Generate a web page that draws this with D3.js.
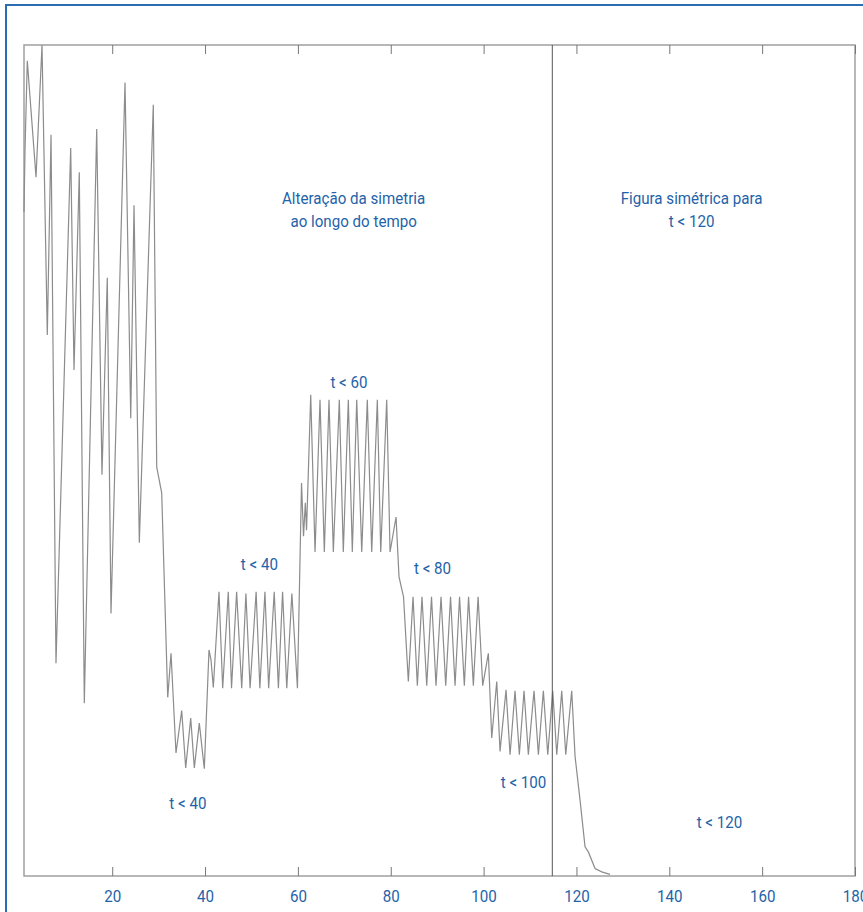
<!DOCTYPE html>
<html>
<head>
<meta charset="utf-8">
<script src="https://cdn.jsdelivr.net/npm/d3@7"></script>
<style>
  body { margin: 0; background: #fff; }
  text { font-family: "Roboto", "Liberation Sans", sans-serif; }
</style>
</head>
<body>
<script>
// signal, as [t, value] vertices (value 0..100, no unit shown)
const chaos = [
  [1.0, 79.9], [1.22, 87.4], [1.71, 98.1], [3.59, 84.1], [4.88, 100], [6.02, 65.1],
  [6.82, 89.2], [7.89, 25.6], [11.06, 87.6], [11.77, 60.9], [12.91, 84.7], [13.99, 20.8],
  [16.66, 89.9], [17.80, 48.3], [18.94, 72.0], [19.74, 31.6], [22.76, 95.5], [23.99, 55.1],
  [24.70, 80.7], [25.84, 40.1], [28.85, 92.8], [29.59, 49.2], [30.66, 46.1]
];
const firstDrop = [
  [31.96, 21.5], [32.67, 26.8], [33.74, 14.8], [34.97, 19.9], [35.83, 13.0], [36.91, 19.0],
  [37.69, 13.0], [38.76, 18.4], [39.84, 12.9], [40.85, 27.2], [41.28, 26.0], [41.78, 22.7]
];
const stage40 = [
  [43.0, 34.2], [43.8, 22.6], [45.0, 34.2], [45.7, 22.6], [46.8, 34.2], [47.9, 22.6],
  [48.8, 34.0], [49.7, 22.6], [51.0, 34.2], [51.8, 22.6], [52.9, 34.2], [53.7, 22.6],
  [54.9, 34.2], [55.8, 22.6], [56.7, 34.2], [57.6, 22.6], [58.7, 34.0], [59.9, 22.6]
];
const stage60 = [
  [60.78, 47.3], [61.21, 40.9], [61.60, 44.9], [61.86, 41.6],
  [62.76, 57.9], [63.69, 39.0], [64.76, 57.3], [65.69, 39.0], [66.70, 57.3], [67.63, 39.0],
  [68.92, 57.3], [69.78, 39.0], [70.86, 57.3], [71.72, 39.0], [72.67, 57.3], [73.75, 39.0],
  [74.95, 57.3], [75.90, 39.0], [77.11, 57.3], [77.84, 39.0], [79.13, 57.3], [79.85, 39.0],
  [81.14, 43.2]
];
const stage80 = [
  [81.78, 36.0], [82.75, 33.6], [83.79, 23.4], [84.80, 33.6], [85.73, 22.9], [86.73, 33.6],
  [87.75, 22.9], [88.78, 33.6], [89.75, 22.9], [90.83, 33.6], [91.84, 22.9], [92.88, 33.6],
  [93.85, 22.9], [94.82, 33.6], [95.85, 22.9], [96.76, 33.6], [97.79, 22.9], [98.81, 33.6],
  [99.81, 22.9], [101.02, 26.8], [101.75, 16.6], [102.83, 23.4]
];
const stage100 = [
  [103.54, 15.0], [104.83, 22.4], [105.70, 14.6], [106.77, 22.3], [107.70, 14.6],
  [108.71, 22.3], [109.64, 14.6], [110.86, 22.3], [111.80, 14.6], [112.87, 22.3],
  [113.82, 14.6], [114.89, 22.3], [115.76, 14.6], [116.83, 22.3], [117.70, 14.6],
  [118.98, 22.3]
];
const decay = [
  [119.70, 14.4], [120.78, 9.1], [121.85, 3.5], [122.56, 2.9], [124.01, 0.9],
  [125.45, 0.5], [127.24, 0.2]
];

const xTicks = [20, 40, 60, 80, 100, 120, 140, 160, 180];
const symmetryLimit = 114.8;

// text notes, anchored in data units (t, value)
const notes = [
  { t: 72.0, v: 80.9, lines: ["Alteração da simetria", "ao longo do tempo"] },
  { t: 144.8, v: 80.9, lines: ["Figura simétrica para", "t < 120"] },
  { t: 71.0, v: 58.7, lines: ["t < 60"] },
  { t: 51.7, v: 36.8, lines: ["t < 40"] },
  { t: 89.0, v: 36.3, lines: ["t < 80"] },
  { t: 36.3, v: 8.1, lines: ["t < 40"] },
  { t: 108.6, v: 10.6, lines: ["t < 100"] },
  { t: 150.8, v: 5.8, lines: ["t < 120"] }
];

const width = 863, height = 912;
const margin = { top: 45, right: 8, bottom: 36, left: 24 };
const blue = "#1f63a8";
// the original face is a narrow gothic, so squeeze the text a bit
const squeeze = "scale(0.89,1)";

const svg = d3.select("body").append("svg")
  .attr("width", width)
  .attr("height", height);

// blue frame of the page (top and left edges only)
svg.append("path")
  .attr("d", `M6,${height} V5 H${width}`)
  .attr("fill", "none")
  .attr("stroke", "#2a6db5")
  .attr("stroke-width", 2);

const x = d3.scaleLinear()
  .domain([1, 180])
  .range([margin.left, width - margin.right]);

const y = d3.scaleLinear()
  .domain([0, 100])
  .range([height - margin.bottom, margin.top]);

const signal = [].concat(chaos, firstDrop, stage40, stage60, stage80, stage100, decay);

// plot box
svg.append("rect")
  .attr("x", x(1))
  .attr("y", y(100))
  .attr("width", x(180) - x(1))
  .attr("height", y(0) - y(100))
  .attr("fill", "none")
  .attr("stroke", "#a0a0a0")
  .attr("stroke-width", 1.5);

// inner ticks, bottom (with labels) and top (without)
const bottomAxis = svg.append("g")
  .attr("transform", `translate(0,${y(0)})`)
  .call(d3.axisBottom(x).tickValues(xTicks).tickSizeInner(-9).tickSizeOuter(0).tickPadding(14));
bottomAxis.select(".domain").remove();
bottomAxis.selectAll("line").attr("stroke", "#777");
bottomAxis.selectAll("text")
  .attr("fill", blue)
  .attr("transform", squeeze)
  .style("font-size", "17px");

const topAxis = svg.append("g")
  .attr("transform", `translate(0,${y(100)})`)
  .call(d3.axisTop(x).tickValues(xTicks).tickSizeInner(-9).tickSizeOuter(0).tickFormat(""));
topAxis.select(".domain").remove();
topAxis.selectAll("line").attr("stroke", "#777");

// the signal
const line = d3.line()
  .x(d => x(d[0]))
  .y(d => y(d[1]));

svg.append("path")
  .datum(signal)
  .attr("d", line)
  .attr("fill", "none")
  .attr("stroke", "#8c8c8c")
  .attr("stroke-width", 1.2)
  .attr("stroke-linejoin", "miter");

// where the figure becomes symmetric
svg.append("line")
  .attr("x1", x(symmetryLimit))
  .attr("x2", x(symmetryLimit))
  .attr("y1", y(100))
  .attr("y2", y(0))
  .attr("stroke", "#555")
  .attr("stroke-width", 1);

// notes
const note = svg.append("g").selectAll("text")
  .data(notes)
  .enter().append("text")
  .attr("transform", d => `translate(${x(d.t)},${y(d.v)}) ${squeeze}`)
  .attr("text-anchor", "middle")
  .attr("fill", blue)
  .style("font-size", "17px");

note.selectAll("tspan")
  .data(d => d.lines)
  .enter().append("tspan")
  .attr("x", 0)
  .attr("dy", (d, i) => i === 0 ? 0 : 23)
  .text(d => d);
</script>
</body>
</html>
